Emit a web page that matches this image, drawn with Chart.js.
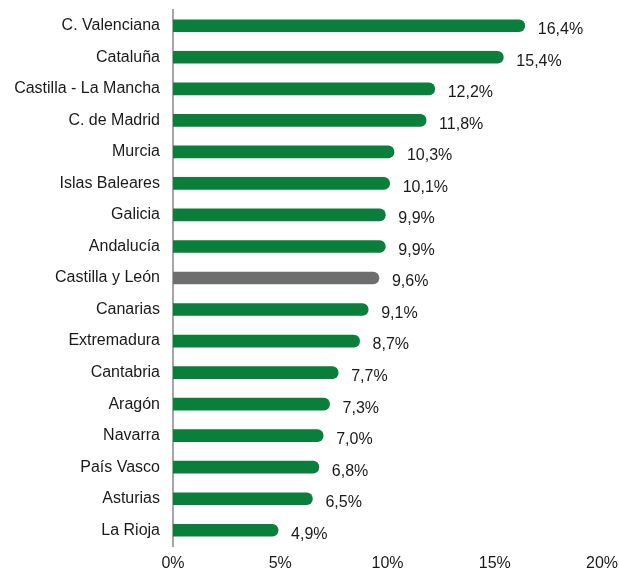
<!DOCTYPE html>
<html>
<head>
<meta charset="utf-8">
<script src="https://cdn.jsdelivr.net/npm/chart.js@4"></script>
<style>
  html, body { margin: 0; padding: 0; background: #fff; }
  #wrap { width: 619px; height: 572px; }
</style>
</head>
<body>
<div id="wrap"><canvas id="grafico"></canvas></div>
<script>
// Datos
const regiones = ['C. Valenciana', 'Cataluña', 'Castilla - La Mancha', 'C. de Madrid', 'Murcia',
  'Islas Baleares', 'Galicia', 'Andalucía', 'Castilla y León', 'Canarias', 'Extremadura',
  'Cantabria', 'Aragón', 'Navarra', 'País Vasco', 'Asturias', 'La Rioja'];
const valores = [16.4, 15.4, 12.2, 11.8, 10.3, 10.1, 9.9, 9.9, 9.6, 9.1, 8.7, 7.7, 7.3, 7.0, 6.8, 6.5, 4.9];
const destacada = 'Castilla y León';
const ticksX = [0, 5, 10, 15, 20];

const verde = '#0a7f3b';
const gris = '#6e6e6e';
const fuente = '"Liberation Sans", Arial, Helvetica, sans-serif';

// Etiquetas de valor a la derecha de cada barra
const etiquetas = {
  id: 'etiquetas',
  afterDatasetsDraw(chart) {
    const ctx = chart.ctx;
    const meta = chart.getDatasetMeta(0);
    ctx.save();
    ctx.font = '16px ' + fuente;
    ctx.fillStyle = '#1a1a1a';
    ctx.textAlign = 'left';
    ctx.textBaseline = 'middle';
    meta.data.forEach((bar, i) => {
      const txt = valores[i].toFixed(1).replace('.', ',') + '%';
      ctx.fillText(txt, bar.x + 13, bar.y + 4);
    });
    ctx.restore();
  }
};

new Chart(document.getElementById('grafico'), {
  type: 'bar',
  data: {
    labels: regiones,
    datasets: [{
      data: valores,
      backgroundColor: regiones.map(r => r === destacada ? gris : verde),
      barThickness: 12,
      borderRadius: 6,
      borderSkipped: 'start'
    }]
  },
  options: {
    indexAxis: 'y',
    responsive: true,
    maintainAspectRatio: false,
    animation: false,
    layout: { padding: { top: 10, right: 17, left: 0, bottom: 0 } },
    plugins: { legend: { display: false }, tooltip: { enabled: false } },
    scales: {
      x: {
        min: 0,
        max: 20,
        afterBuildTicks: scale => { scale.ticks = ticksX.map(v => ({ value: v })); },
        afterFit: scale => {
          scale.height = 26;
          scale.paddingLeft = 0;
          scale.paddingRight = 0;
        },
        grid: { display: false, drawTicks: false },
        border: { display: false },
        ticks: {
          padding: 8,
          color: '#1a1a1a',
          font: { family: fuente, size: 16 },
          maxRotation: 0,
          callback: v => v + '%'
        }
      },
      y: {
        afterFit: scale => {
          scale.width = 173;
          scale.paddingTop = 0;
          scale.paddingBottom = 0;
        },
        grid: { display: false, drawTicks: false },
        border: { display: true, color: '#a6a6a6', width: 2 },
        ticks: {
          padding: 13,
          color: '#1a1a1a',
          font: { family: fuente, size: 16 }
        }
      }
    }
  },
  plugins: [etiquetas]
});
</script>
</body>
</html>
